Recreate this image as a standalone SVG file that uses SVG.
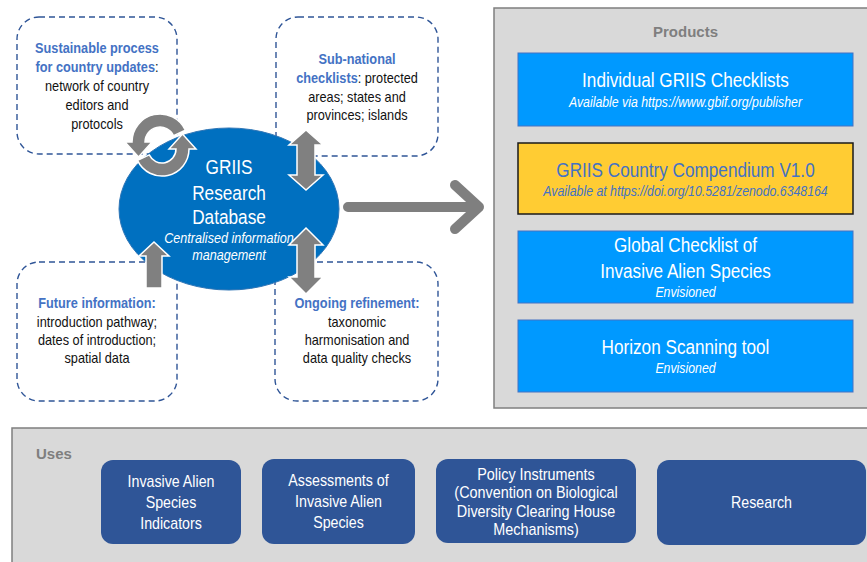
<svg xmlns="http://www.w3.org/2000/svg" width="867" height="562" viewBox="0 0 867 562">
  <style>
    text { font-family: "Liberation Sans", Arial, sans-serif; text-anchor: middle; }
    .dash { fill: #ffffff; stroke: #2F5597; stroke-width: 1.4; stroke-dasharray: 6 4; }
    .note { font-size: 14px; fill: #111111; }
    .hl { font-weight: bold; fill: #4472C4; }
    .panel { fill: #D9D9D9; stroke: #7F7F7F; stroke-width: 1.5; }
    .panel-title { font-size: 15px; font-weight: bold; fill: #7F7F7F; text-anchor: start; }
    .prod { fill: #0099FF; stroke: #4472C4; stroke-width: 1; }
    .prod-title { font-size: 19.5px; fill: #ffffff; }
    .prod-sub { font-size: 14px; font-style: italic; fill: #ffffff; }
    .use { fill: #2F5597; }
    .use-text { font-size: 16px; fill: #ffffff; }
    .garrow { fill: #808080; stroke: #ffffff; stroke-width: 1.5; stroke-linejoin: miter; }
  </style>

  <!-- dashed information boxes -->
  <g id="sustainable-process">
    <rect class="dash" x="17" y="17" width="160" height="137" rx="22"/>
    <g transform="translate(97 0) scale(0.91 1)">
      <text class="note" x="0" y="53"><tspan class="hl">Sustainable process</tspan></text>
      <text class="note" x="0" y="72"><tspan class="hl">for country updates</tspan>:</text>
      <text class="note" x="0" y="91">network of country</text>
      <text class="note" x="0" y="110">editors and</text>
      <text class="note" x="0" y="129">protocols</text>
    </g>
  </g>

  <g id="sub-national">
    <rect class="dash" x="276" y="17" width="162" height="139" rx="22"/>
    <g transform="translate(357 0) scale(0.91 1)">
      <text class="note" x="0" y="64"><tspan class="hl">Sub-national</tspan></text>
      <text class="note" x="0" y="83"><tspan class="hl">checklists</tspan>: protected</text>
      <text class="note" x="0" y="102">areas; states and</text>
      <text class="note" x="0" y="120">provinces; islands</text>
    </g>
  </g>

  <g id="future-information">
    <rect class="dash" x="17" y="262" width="160" height="139" rx="22"/>
    <g transform="translate(97 0) scale(0.91 1)">
      <text class="note" x="0" y="308"><tspan class="hl">Future information:</tspan></text>
      <text class="note" x="0" y="327">introduction pathway;</text>
      <text class="note" x="0" y="345">dates of introduction;</text>
      <text class="note" x="0" y="363">spatial data</text>
    </g>
  </g>

  <g id="ongoing-refinement">
    <rect class="dash" x="275" y="262" width="163" height="139" rx="22"/>
    <g transform="translate(357 0) scale(0.91 1)">
      <text class="note" x="0" y="308"><tspan class="hl">Ongoing refinement:</tspan></text>
      <text class="note" x="0" y="327">taxonomic</text>
      <text class="note" x="0" y="345">harmonisation and</text>
      <text class="note" x="0" y="363">data quality checks</text>
    </g>
  </g>

  <!-- central database -->
  <g id="griis-database">
    <ellipse cx="229" cy="209" rx="110" ry="81" fill="#0070C0" stroke="#2E75B6" stroke-width="1"/>
    <g transform="translate(229 0) scale(0.84 1)">
      <text x="0" y="174" font-size="20.5" fill="#ffffff">GRIIS</text>
      <text x="0" y="200" font-size="20.5" fill="#ffffff">Research</text>
      <text x="0" y="224" font-size="20.5" fill="#ffffff">Database</text>
      <text x="0" y="243" font-size="15" font-style="italic" fill="#ffffff">Centralised information</text>
      <text x="0" y="260" font-size="15" font-style="italic" fill="#ffffff">management</text>
    </g>
  </g>

  <!-- products panel -->
  <g id="products">
    <rect class="panel" x="494" y="8" width="380" height="400"/>
    <text x="685.5" y="37" font-size="15" font-weight="bold" fill="#7F7F7F">Products</text>
  </g>

  <g id="individual-checklists">
    <rect class="prod" x="518" y="53" width="335" height="73"/>
    <g transform="translate(685.5 0) scale(0.88 1)">
      <text class="prod-title" x="0" y="87">Individual GRIIS Checklists</text>
      <text class="prod-sub" x="0" y="107">Available via https://www.gbif.org/publisher</text>
    </g>
  </g>

  <g id="country-compendium">
    <rect x="518" y="143" width="335" height="71" fill="#FFCC33" stroke="#1a1a1a" stroke-width="1.5"/>
    <g transform="translate(685.5 0) scale(0.88 1)">
      <text class="prod-title" x="0" y="177" style="fill:#4472C4">GRIIS Country Compendium V1.0</text>
      <text class="prod-sub" x="0" y="196" style="fill:#4472C4">Available at https://doi.org/10.5281/zenodo.6348164</text>
    </g>
  </g>

  <g id="global-checklist">
    <rect class="prod" x="518" y="231" width="335" height="72"/>
    <g transform="translate(685.5 0) scale(0.88 1)">
      <text class="prod-title" x="0" y="252">Global Checklist of</text>
      <text class="prod-title" x="0" y="278">Invasive Alien Species</text>
      <text class="prod-sub" x="0" y="297">Envisioned</text>
    </g>
  </g>

  <g id="horizon-scanning">
    <rect class="prod" x="518" y="320" width="335" height="72"/>
    <g transform="translate(685.5 0) scale(0.88 1)">
      <text class="prod-title" x="0" y="354">Horizon Scanning tool</text>
      <text class="prod-sub" x="0" y="373">Envisioned</text>
    </g>
  </g>

  <!-- uses panel -->
  <g id="uses">
    <rect class="panel" x="12" y="428" width="870" height="150"/>
    <text class="panel-title" x="36" y="459" font-size="14.5">Uses</text>
  </g>

  <g id="use-indicators">
    <rect class="use" x="101" y="460" width="140" height="84" rx="12"/>
    <g transform="translate(171 0) scale(0.89 1)">
      <text class="use-text" x="0" y="487">Invasive Alien</text>
      <text class="use-text" x="0" y="508">Species</text>
      <text class="use-text" x="0" y="529">Indicators</text>
    </g>
  </g>

  <g id="use-assessments">
    <rect class="use" x="262" y="459" width="153" height="85" rx="12"/>
    <g transform="translate(338.5 0) scale(0.89 1)">
      <text class="use-text" x="0" y="486">Assessments of</text>
      <text class="use-text" x="0" y="507">Invasive Alien</text>
      <text class="use-text" x="0" y="528">Species</text>
    </g>
  </g>

  <g id="use-policy">
    <rect class="use" x="436" y="459" width="200" height="84" rx="12"/>
    <g transform="translate(536 0) scale(0.9 1)">
      <text class="use-text" x="0" y="480">Policy Instruments</text>
      <text class="use-text" x="0" y="498" font-size="14">(Convention on Biological</text>
      <text class="use-text" x="0" y="517" font-size="14">Diversity Clearing House</text>
      <text class="use-text" x="0" y="535" font-size="14">Mechanisms)</text>
    </g>
  </g>

  <g id="use-research">
    <rect class="use" x="657" y="460" width="209" height="85" rx="12"/>
    <g transform="translate(761.5 0) scale(0.89 1)">
      <text class="use-text" x="0" y="508">Research</text>
    </g>
  </g>

  <!-- connectors -->
  <g id="connectors">
    <!-- update cycle -->
    <path class="garrow" d="M185.4,130.2 A28,28 0 0 0 132,142 L125,142 L138.5,157 L152,142 L145,142 A15,15 0 0 1 173.6,135.7 Z"/>
    <path class="garrow" d="M137.5,160.4 A27,27 0 0 0 189,149 L196,149 L182.5,134 L169,149 L176,149 A14,14 0 0 1 149.3,154.9 Z"/>
    <!-- two-way exchange with sub-national checklists -->
    <path class="garrow" d="M306,130 L323,145 L315,145 L315,175 L323,175 L306,190 L289,175 L297,175 L297,145 L289,145 Z"/>
    <!-- two-way exchange with ongoing refinement -->
    <path class="garrow" d="M306,228 L323,245 L315,245 L315,277 L323,277 L306,294 L289,277 L297,277 L297,245 L289,245 Z"/>
    <!-- future information feeding in -->
    <path class="garrow" d="M154,242 L169,256 L162,256 L162,288 L146,288 L146,256 L139,256 Z"/>
    <!-- database to products -->
    <path d="M348,207 L478,207 M455,185 L479,207 L455,229" fill="none" stroke="#7F7F7F" stroke-width="10" stroke-linecap="round" stroke-linejoin="round"/>
  </g>
</svg>
